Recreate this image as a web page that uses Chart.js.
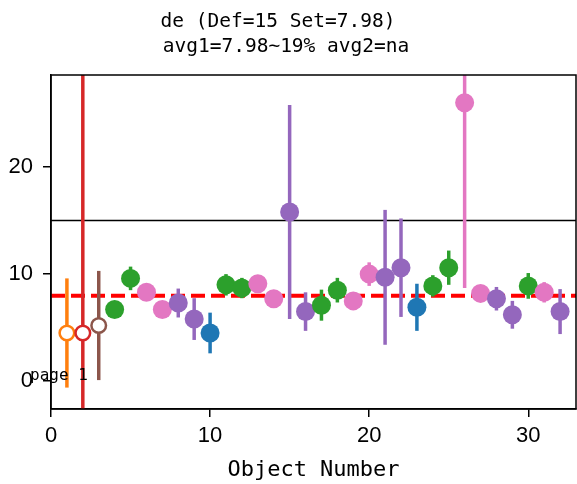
<!DOCTYPE html>
<html>
<head>
<meta charset="utf-8">
<script src="https://cdn.jsdelivr.net/npm/chart.js@4/dist/chart.umd.min.js"></script>
<style>
  body { margin: 0; background: #fff; }
</style>
</head>
<body>
<canvas id="chart" width="577" height="484"></canvas>
<script>
// данные
const objects = [1, 2, 3, 4, 5, 6, 7, 8, 9, 10, 11, 12, 13, 14, 15, 16,
  17, 18, 19, 20, 21, 22, 23, 24, 25, 26, 27, 28, 29, 30, 31, 32];
const values = [4.5, 4.5, 5.2, 6.7, 9.6, 8.3, 6.7, 7.3, 5.8, 4.5, 9.0, 8.7,
  9.1, 7.7, 15.8, 6.5, 7.1, 8.5, 7.5, 10.0, 9.7, 10.6, 6.9, 8.9, 10.6, 26.0,
  8.2, 7.7, 6.2, 8.9, 8.3, 6.5];
const errors = [5.1, 40, 5.1, 0.5, 1.1, 0.5, 0.5, 1.35, 1.95, 1.9, 1.0, 0.95,
  0.5, 0.5, 10.0, 1.8, 1.45, 1.15, 0.5, 1.1, 6.3, 4.6, 2.2, 1.0, 1.6, 17.3,
  0.5, 1.1, 1.3, 1.2, 0.95, 2.1];
// группа (цвет matplotlib C0..C6)
const groups = ['C1', 'C3', 'C5', 'C2', 'C2', 'C6', 'C6', 'C4', 'C4', 'C0',
  'C2', 'C2', 'C6', 'C6', 'C4', 'C4', 'C2', 'C2', 'C6', 'C6', 'C4', 'C4',
  'C0', 'C2', 'C2', 'C6', 'C6', 'C4', 'C4', 'C2', 'C6', 'C4'];
// открытые маркеры
const flagged = [true, true, true, false, false, false, false, false, false,
  false, false, false, false, false, false, false, false, false, false, false,
  false, false, false, false, false, false, false, false, false, false, false,
  false];
const defValue = 15;
const setValue = 7.98;
const xTicks = [0, 10, 20, 30];
const yTicks = [0, 10, 20];
const titleLines = ['de (Def=15 Set=7.98)', 'avg1=7.98~19% avg2=na'];
const pageLabel = 'page 1';
const xTitle = 'Object Number';

const palette = {
  C0: '#1f77b4',
  C1: '#ff7f0e',
  C2: '#2ca02c',
  C3: '#d62728',
  C4: '#9467bd',
  C5: '#8c564b',
  C6: '#e377c2',
};

const MONO = "'DejaVu Sans Mono', monospace";
const SANS = "'Liberation Sans', Arial, sans-serif";

// Линии Def и Set + усы ошибок
const errorBars = {
  id: 'errorBars',
  beforeDatasetsDraw(chart) {
    const { ctx, chartArea, scales: { x, y } } = chart;
    ctx.save();
    ctx.beginPath();
    ctx.rect(chartArea.left, chartArea.top, chartArea.width, chartArea.height);
    ctx.clip();

    // горизонтальная линия Def
    ctx.strokeStyle = '#000';
    ctx.lineWidth = 1.5;
    ctx.beginPath();
    ctx.moveTo(chartArea.left, y.getPixelForValue(defValue));
    ctx.lineTo(chartArea.right, y.getPixelForValue(defValue));
    ctx.stroke();

    // пунктир Set
    ctx.strokeStyle = '#ff0000';
    ctx.lineWidth = 4;
    ctx.setLineDash([14, 6]);
    ctx.beginPath();
    ctx.moveTo(chartArea.left, y.getPixelForValue(setValue));
    ctx.lineTo(chartArea.right, y.getPixelForValue(setValue));
    ctx.stroke();
    ctx.setLineDash([]);

    ctx.lineWidth = 3.5;
    objects.forEach((obj, i) => {
      const px = x.getPixelForValue(obj);
      ctx.strokeStyle = palette[groups[i]];
      ctx.beginPath();
      ctx.moveTo(px, y.getPixelForValue(values[i] - errors[i]));
      ctx.lineTo(px, y.getPixelForValue(values[i] + errors[i]));
      ctx.stroke();
    });
    ctx.restore();
  },
};

// Рамка и подписи
const frameAndText = {
  id: 'frameAndText',
  afterDatasetsDraw(chart) {
    const { ctx, chartArea: { top, bottom, left, right } } = chart;
    ctx.save();
    ctx.strokeStyle = '#000';
    ctx.lineWidth = 1.5;
    ctx.strokeRect(left, top, right - left, bottom - top);
    ctx.restore();
  },
  afterDraw(chart) {
    const { ctx } = chart;
    ctx.save();
    ctx.fillStyle = '#000';
    ctx.textBaseline = 'alphabetic';
    ctx.textAlign = 'center';
    ctx.font = `19.5px ${MONO}`;
    ctx.fillText(titleLines[0], 278, 27);
    ctx.fillText(titleLines[1], 286, 52);

    ctx.textAlign = 'left';
    ctx.font = `16px ${MONO}`;
    ctx.fillText(pageLabel, 30, 380);
    ctx.restore();
  },
};

const tickFont = { family: SANS, size: 22 };

new Chart(document.getElementById('chart'), {
  type: 'scatter',
  data: {
    datasets: [
      {
        data: objects.map((obj, i) => ({ x: obj, y: values[i] })),
        pointRadius: (c) => (flagged[c.dataIndex] ? 7.3 : 9.5),
        pointHoverRadius: (c) => (flagged[c.dataIndex] ? 7.3 : 9.5),
        pointBorderWidth: (c) => (flagged[c.dataIndex] ? 2.5 : 0),
        pointBackgroundColor: (c) =>
          flagged[c.dataIndex] ? '#fff' : palette[groups[c.dataIndex]],
        pointBorderColor: (c) => palette[groups[c.dataIndex]],
      },
    ],
  },
  options: {
    responsive: false,
    animation: false,
    layout: {
      autoPadding: false,
      padding: { top: 75, right: 1, left: 0, bottom: 0 },
    },
    plugins: {
      legend: { display: false },
      tooltip: { enabled: false },
    },
    scales: {
      x: {
        type: 'linear',
        min: 0,
        max: 33,
        afterBuildTicks: (scale) => {
          scale.ticks = xTicks.map((v) => ({ value: v }));
        },
        afterFit: (scale) => {
          scale.height = 75;
          scale.paddingLeft = 0;
          scale.paddingRight = 0;
        },
        ticks: {
          color: '#000',
          font: tickFont,
          padding: 6,
          maxRotation: 0,
        },
        grid: {
          drawOnChartArea: false,
          tickLength: 8,
          color: '#000',
          lineWidth: 1.5,
        },
        border: { display: true, color: '#000', width: 1.5 },
        title: {
          display: true,
          text: xTitle,
          color: '#000',
          font: { family: MONO, size: 22 },
          padding: { top: 0, bottom: 1 },
        },
      },
      y: {
        type: 'linear',
        min: -2.6,
        max: 28.6,
        afterBuildTicks: (scale) => {
          scale.ticks = yTicks.map((v) => ({ value: v }));
        },
        afterFit: (scale) => {
          scale.width = 51;
          scale.paddingTop = 0;
          scale.paddingBottom = 0;
        },
        ticks: {
          color: '#000',
          font: tickFont,
          padding: 10,
        },
        grid: {
          drawOnChartArea: false,
          tickLength: 8,
          color: '#000',
          lineWidth: 1.5,
        },
        border: { display: true, color: '#000', width: 1.5 },
      },
    },
  },
  plugins: [errorBars, frameAndText],
});
</script>
</body>
</html>
